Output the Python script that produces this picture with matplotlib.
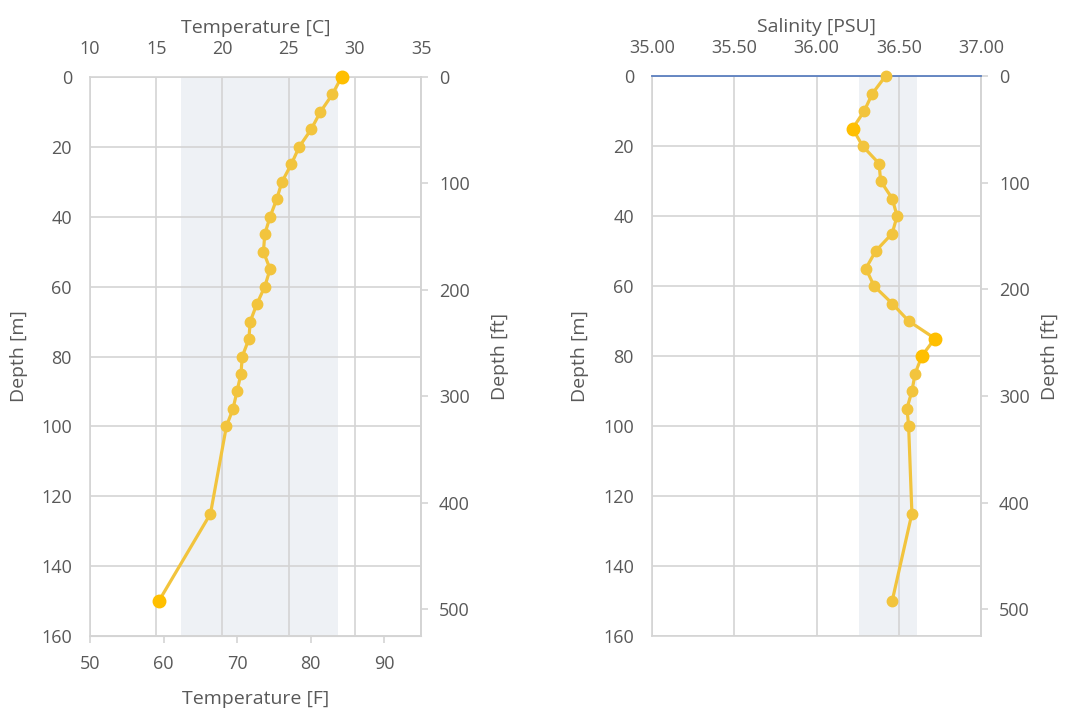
import numpy as np
import matplotlib.pyplot as plt
from matplotlib.ticker import FormatStrFormatter

plt.rcParams['font.family'] = ['Open Sans', 'DejaVu Sans']

# Messtiefen [m]
depth_m = [0, 5, 10, 15, 20, 25, 30, 35, 40, 45, 50, 55, 60, 65, 70, 75, 80,
           85, 90, 95, 100, 125, 150]

# Temperaturprofil [C]
temp_c = [29.0, 28.3, 27.4, 26.7, 25.8, 25.2, 24.5, 24.1, 23.6, 23.2, 23.1,
          23.6, 23.2, 22.6, 22.1, 22.0, 21.5, 21.4, 21.1, 20.8, 20.3, 19.1, 15.2]

# Salzgehalt [PSU]
salinity = [36.42, 36.34, 36.29, 36.22, 36.28, 36.38, 36.39, 36.46, 36.49,
            36.46, 36.36, 36.30, 36.35, 36.46, 36.56, 36.72, 36.64, 36.60,
            36.58, 36.55, 36.56, 36.58, 36.46]

# hervorgehobene Punkte und Bereiche
temp_highlight = [0, 22]
sal_highlight = [3, 15, 16]
temp_band = (16.9, 28.7)
sal_band = (36.26, 36.61)

temp_ticks_c = [10, 15, 20, 25, 30, 35]
temp_ticks_f = [50, 60, 70, 80, 90]
sal_ticks = [35.0, 35.5, 36.0, 36.5, 37.0]
depth_ticks = [0, 20, 40, 60, 80, 100, 120, 140, 160]
ft_ticks = [0, 100, 200, 300, 400, 500]

TXT = '#595959'
GRID = '#d4d4d4'
LINE = '#f2c43d'
HIGH = '#ffbf00'
BAND = '#eef1f5'
FS = 13   # Tick-Beschriftung
LS = 14   # Achsentitel
W, H = 1067, 713


def c2f(c):
    return c * 9 / 5 + 32


def f2c(f):
    return (f - 32) * 5 / 9


def m2ft(m):
    return m / 0.3048


def ft2m(ft):
    return ft * 0.3048


def style_depth_axis(ax, box, xm, ft_pad):
    # box = (links, rechts) in Pixel, xm = rechte Kante von "Depth [m]" in Pixel
    left, right = box
    ax.set_ylim(160, 0)
    ax.set_yticks(depth_ticks)
    ax.tick_params(axis='y', length=0, pad=13, labelsize=FS, labelcolor=TXT)
    ax.set_ylabel("Depth [m]", color=TXT, fontsize=LS)
    ax.yaxis.set_label_coords((xm - left) / (right - left), 0.5)
    ax.grid(True, color=GRID, linewidth=1.2)
    ax.set_axisbelow(True)
    for s in ax.spines.values():
        s.set_color(GRID)
        s.set_linewidth(1.2)

    ft = ax.secondary_yaxis('right', functions=(m2ft, ft2m))
    ft.set_yticks(ft_ticks)
    ft.tick_params(length=5, width=1.2, color=GRID, pad=8, labelsize=FS, labelcolor=TXT)
    ft.spines['right'].set_color(GRID)
    ft.spines['right'].set_linewidth(1.2)
    ft.set_ylabel("Depth [ft]", color=TXT, fontsize=LS, labelpad=ft_pad)


def plot_profile(ax, x, highlight):
    ax.plot(x, depth_m, color=LINE, linewidth=2.3, marker='o', markersize=7.5,
            zorder=3, clip_on=False)
    hx = [x[i] for i in highlight]
    hy = [depth_m[i] for i in highlight]
    ax.plot(hx, hy, linestyle='none', color=HIGH, marker='o', markersize=9,
            zorder=4, clip_on=False)


def add_axes_px(fig, left, right, top, bottom):
    return fig.add_axes([left / W, 1 - bottom / H, (right - left) / W, (bottom - top) / H])


fig = plt.figure(figsize=(W / 100, H / 100), dpi=100)

# --- Temperatur ---
ax1 = add_axes_px(fig, 90, 421, 77, 636)
ax1.axvspan(*temp_band, color=BAND, zorder=0, linewidth=0)
plot_profile(ax1, temp_c, temp_highlight)
ax1.set_xlim(10, 35)
ax1.set_xticks(temp_ticks_c)
ax1.xaxis.tick_top()
ax1.xaxis.set_label_position('top')
ax1.tick_params(axis='x', length=0, pad=14, labelsize=FS, labelcolor=TXT)
ax1.set_xlabel("Temperature [C]", color=TXT, fontsize=LS, labelpad=5)
style_depth_axis(ax1, (90, 421), 28, 15)

fx = ax1.secondary_xaxis('bottom', functions=(c2f, f2c))
fx.set_xticks(temp_ticks_f)
fx.tick_params(length=5, width=1.2, color=GRID, pad=9, labelsize=FS, labelcolor=TXT)
fx.spines['bottom'].set_color(GRID)
fx.set_xlabel("Temperature [F]", color=TXT, fontsize=LS, labelpad=12)

# --- Salzgehalt ---
ax2 = add_axes_px(fig, 652, 981, 76, 636)
ax2.axvspan(*sal_band, color=BAND, zorder=0, linewidth=0)
plot_profile(ax2, salinity, sal_highlight)
ax2.set_xlim(35, 37)
ax2.set_xticks(sal_ticks)
ax2.xaxis.set_major_formatter(FormatStrFormatter('%.2f'))
ax2.xaxis.tick_top()
ax2.xaxis.set_label_position('top')
ax2.tick_params(axis='x', length=0, pad=14, labelsize=FS, labelcolor=TXT)
ax2.set_xlabel("Salinity [PSU]", color=TXT, fontsize=LS, labelpad=5)
style_depth_axis(ax2, (652, 981), 589, 8)
ax2.spines['top'].set_color('#5b7fbf')
ax2.spines['top'].set_linewidth(1.3)

fig.savefig("out.png", dpi=100)
